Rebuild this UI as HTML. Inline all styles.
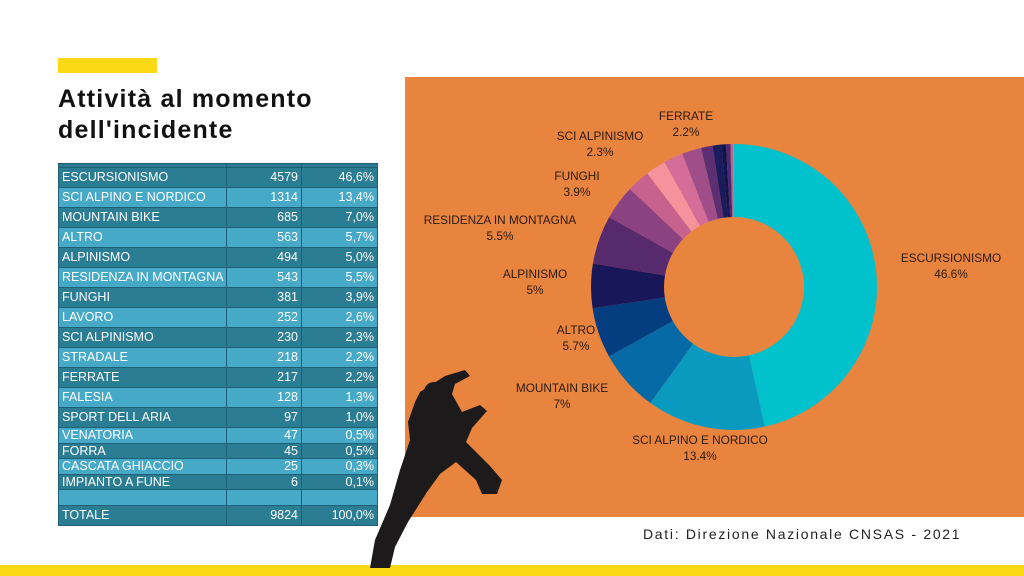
<!DOCTYPE html>
<html><head><meta charset="utf-8"><style>
body{margin:0;width:1024px;height:576px;background:#fff;position:relative;overflow:hidden;font-family:"Liberation Sans",sans-serif}
.a{position:absolute}
table{border-collapse:collapse;font-size:12.5px;color:#fff;table-layout:fixed;width:319px}
td{padding:0 3px;border:1px solid #1f5f75;line-height:1;overflow:hidden;white-space:nowrap}
td.n{text-align:right}
</style></head><body>
<div class="a" style="left:58px;top:84px;font-size:25px;font-weight:bold;line-height:31px;letter-spacing:1.2px;color:#111">Attività al momento<br>dell'incidente</div>
<div class="a" style="left:58px;top:58px;width:99px;height:15px;background:#fbd915"></div>
<div class="a" style="left:405px;top:77px;width:619px;height:440px;background:#e9843f"></div>
<div class="a" style="left:0;top:565px;width:1024px;height:11px;background:#fbd915"></div>
<div class="a" style="left:643px;top:526px;font-size:14px;letter-spacing:1.7px;color:#222">Dati: Direzione Nazionale CNSAS - 2021</div>
<div class="a" id="tb" style="left:58px;top:163px"></div>
<svg class="a" style="left:0;top:0" width="1024" height="576" id="sv">
<path d="M420,392 L445,376 L465,370 L470,376 L455,384 L452,394 L462,412 L480,405 L487,411 L472,428 L466,442 L490,466 L502,480 L497,494 L482,494 L476,480 L456,462 L440,474 L427,492 L408,522 L395,547 L390,568 L370,568 L375,540 L390,505 L400,470 L410,440 L408,422 L415,402 Z" fill="#1c1a1a"/>
<circle cx="434" cy="392" r="10" fill="#1c1a1a"/>
</svg>
<script>
var rows=[["ESCURSIONISMO","4579","46,6%",20],["SCI ALPINO E NORDICO","1314","13,4%",20],["MOUNTAIN BIKE","685","7,0%",20],["ALTRO","563","5,7%",20],["ALPINISMO","494","5,0%",20],["RESIDENZA IN MONTAGNA","543","5,5%",20],["FUNGHI","381","3,9%",20],["LAVORO","252","2,6%",20],["SCI ALPINISMO","230","2,3%",20],["STRADALE","218","2,2%",20],["FERRATE","217","2,2%",20],["FALESIA","128","1,3%",20],["SPORT DELL ARIA","97","1,0%",20],["VENATORIA","47","0,5%",15.5],["FORRA","45","0,5%",15.5],["CASCATA GHIACCIO","25","0,3%",15.5],["IMPIANTO A FUNE","6","0,1%",15.5],["","","",15.5],["TOTALE","9824","100,0%",20]];
var h='<table><col style="width:168px"><col style="width:75px"><col style="width:76px"><tr style="height:4px;background:#2a7b92"><td></td><td></td><td></td></tr>';
rows.forEach(function(r,i){var c=(i%2==0)?"#2b7d94":"#47a9c8";if(i==18)c="#2b7d94";h+='<tr style="height:'+r[3]+'px;background:'+c+'"><td>'+r[0]+'</td><td class="n">'+r[1]+'</td><td class="n">'+r[2]+'</td></tr>';});
document.getElementById('tb').innerHTML=h+'</table>';
var v=[46.6,13.4,7.0,5.7,5.0,5.5,3.9,2.6,2.3,2.2,2.2,1.3,1.0,0.5,0.5,0.3,0.1];
var col=["#00c1cc","#0a9ac0","#066aa6","#043d80","#17175a","#57296d","#8b4283","#c7628f","#f4939b","#d46d99","#a04e89","#5d2f72","#1b1c5c","#0f1550","#4a2a6e","#c06090","#e07a98"];
var s=0,t=v.reduce(function(a,b){return a+b},0),cx=734,cy=287,R=143,r=70,out='';
function p(a,rr){return [cx+rr*Math.sin(a),cy-rr*Math.cos(a)]}
v.forEach(function(x,i){var a0=s/t*2*Math.PI;s+=x;var a1=s/t*2*Math.PI;var L=(a1-a0)>Math.PI?1:0;var A=p(a0,R),B=p(a1,R),C=p(a1,r),D=p(a0,r);
out+='<path fill="'+col[i]+'" d="M'+A+' A'+R+','+R+' 0 '+L+' 1 '+B+' L'+C+' A'+r+','+r+' 0 '+L+' 0 '+D+'Z"/>';});
var lab=[["ESCURSIONISMO","46.6%",951,262],["SCI ALPINO E NORDICO","13.4%",700,444],["MOUNTAIN BIKE","7%",562,392],["ALTRO","5.7%",576,334],["ALPINISMO","5%",535,278],["RESIDENZA IN MONTAGNA","5.5%",500,224],["FUNGHI","3.9%",577,180],["SCI ALPINISMO","2.3%",600,140],["FERRATE","2.2%",686,120]];
lab.forEach(function(l){out+='<text x="'+l[2]+'" y="'+l[3]+'" font-size="11.8" text-anchor="middle" fill="#2a1a10">'+l[0]+'</text><text x="'+l[2]+'" y="'+(l[3]+16)+'" font-size="11.8" text-anchor="middle" fill="#2a1a10">'+l[1]+'</text>';});
var sv=document.getElementById('sv');sv.innerHTML=out+sv.innerHTML;
</script>
</body></html>
